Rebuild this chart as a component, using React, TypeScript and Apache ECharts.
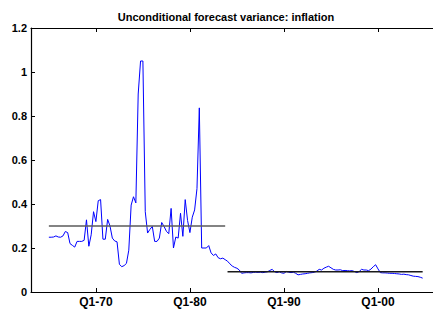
import React, { useEffect, useRef } from "react";
import * as echarts from "echarts";

const titleText = "Unconditional forecast variance: inflation";
const startYear = 1965; // first observation: Q1-1965, quarterly
const inflationVariance = [
  0.249, 0.249, 0.25, 0.255, 0.25, 0.249, 0.255, 0.275, 0.27, 0.22,
  0.212, 0.204, 0.23, 0.23, 0.23, 0.235, 0.328, 0.208, 0.26, 0.365,
  0.32, 0.415, 0.42, 0.24, 0.24, 0.33, 0.3, 0.245, 0.232, 0.228,
  0.126, 0.115, 0.12, 0.13, 0.19, 0.395, 0.433, 0.405, 0.9, 1.05,
  1.05, 0.365, 0.268, 0.285, 0.298, 0.23, 0.23, 0.245, 0.316, 0.298,
  0.276, 0.265, 0.38, 0.2, 0.25, 0.245, 0.358, 0.253, 0.42, 0.325,
  0.27, 0.34, 0.373, 0.47, 0.837, 0.2, 0.2, 0.2, 0.211, 0.178,
  0.166, 0.173, 0.156, 0.151, 0.154, 0.147, 0.14, 0.128, 0.118, 0.112,
  0.108, 0.1, 0.085, 0.087, 0.088, 0.088, 0.087, 0.089, 0.09, 0.089,
  0.09, 0.088, 0.09, 0.092, 0.098, 0.103, 0.092, 0.088, 0.092, 0.087,
  0.085, 0.093, 0.09, 0.088, 0.09, 0.085, 0.078, 0.08, 0.082, 0.083,
  0.085, 0.087, 0.088, 0.09, 0.095, 0.103, 0.1, 0.108, 0.113, 0.117,
  0.11, 0.103, 0.1, 0.1, 0.101, 0.097, 0.098, 0.097, 0.096, 0.097,
  0.093, 0.088, 0.093, 0.103, 0.1, 0.1, 0.097, 0.104, 0.115, 0.124,
  0.105, 0.088, 0.087, 0.087, 0.086, 0.085, 0.085, 0.084, 0.083, 0.082,
  0.08, 0.081, 0.079, 0.078, 0.075, 0.072, 0.071, 0.07, 0.067, 0.063,
];
const regimeStart = [1965, 1984];
const regimeEnd = [1983.75, 2004.75];
const regimeLevel = [0.3, 0.092];
const regimeColor = ["#5a5a5a", "#1a1a1a"];
const xTickYears = [1970, 1980, 1990, 2000];
const yTicks = [0, 0.2, 0.4, 0.6, 0.8, 1, 1.2];

const FONT = "'Liberation Sans', Arial, Helvetica, sans-serif";

export default function App() {
  const ref = useRef<HTMLDivElement>(null);
  useEffect(() => {
    if (!ref.current) return;
    const chart = echarts.init(ref.current, null, { renderer: "svg" });
    const seriesData = inflationVariance.map((v, i) => [startYear + i / 4, v]);
    const regimeSeries = regimeLevel.map((lvl, k) => ({
      type: "line" as const,
      data: [
        [regimeStart[k], lvl],
        [regimeEnd[k], lvl],
      ],
      symbol: "none",
      lineStyle: { color: regimeColor[k], width: k === 0 ? 1.6 : 1.3 },
      z: 3,
    }));
    const fmt = (v: number) => "Q1-" + String(Math.round(v)).slice(2);
    chart.setOption({
      animation: false,
      title: {
        text: titleText,
        left: 221,
        top: 6,
        textAlign: "center",
        textStyle: { fontSize: 11, fontWeight: "bold", color: "#000", fontFamily: FONT },
      },
      grid: { left: 31, right: 0, top: 28, bottom: 18, containLabel: false },
      xAxis: [
        {
          type: "value",
          min: 1963.1,
          max: 2005.85,
          position: "bottom",
          splitLine: { show: false },
          axisLine: { show: true, onZero: false, lineStyle: { color: "#000", width: 1.2 } },
          axisTick: {
            show: true,
            inside: true,
            length: 4,
            customValues: xTickYears,
            lineStyle: { color: "#000" },
          },
          axisLabel: {
            show: true,
            customValues: xTickYears,
            formatter: fmt,
            margin: 4,
            fontSize: 12,
            fontWeight: "bold",
            color: "#000",
            fontFamily: FONT,
          },
        },
        {
          type: "value",
          min: 1963.1,
          max: 2005.85,
          position: "top",
          splitLine: { show: false },
          axisLine: { show: true, onZero: false, lineStyle: { color: "#000", width: 1.2 } },
          axisTick: {
            show: true,
            inside: true,
            length: 4,
            customValues: xTickYears,
            lineStyle: { color: "#000" },
          },
          axisLabel: { show: false },
        },
      ],
      yAxis: {
        type: "value",
        min: 0,
        max: 1.2,
        interval: 0.2,
        splitLine: { show: false },
        axisLine: { show: true, lineStyle: { color: "#000", width: 1.2 } },
        axisTick: { show: true, inside: true, length: 4, lineStyle: { color: "#000" } },
        axisLabel: {
          margin: 4,
          fontSize: 11,
          fontWeight: "bold",
          color: "#000",
          fontFamily: FONT,
          formatter: (v: number) => {
            const t = yTicks.find((y) => Math.abs(y - v) < 1e-9);
            return t === undefined ? "" : String(t);
          },
        },
      },
      series: [
        {
          type: "line",
          data: seriesData,
          symbol: "none",
          lineStyle: { color: "#0000ff", width: 1 },
          z: 2,
        },
        ...regimeSeries,
      ],
    });
    return () => chart.dispose();
  }, []);
  return (
    <div
      ref={ref}
      style={{ position: "fixed", left: 0, top: 0, width: 433, height: 310, background: "#fff" }}
    />
  );
}
